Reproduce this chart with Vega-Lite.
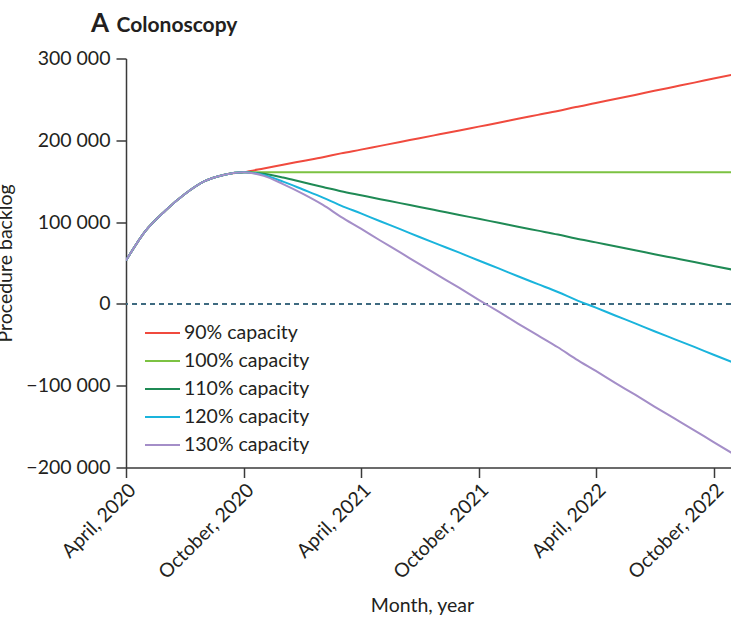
{
  "$schema": "https://vega.github.io/schema/vega-lite/v6.json",
  "width": 605,
  "height": 409,
  "autosize": {"type": "none"},
  "padding": {"left": 126, "top": 58.5, "right": 0, "bottom": 154.5},
  "background": "white",
  "title": {
    "text": "A",
    "subtitle": "\u200b\u00a0\u00a0\u00a0\u00a0\u00a0Colonoscopy",
    "anchor": "start",
    "frame": "group",
    "dx": -35,
    "offset": 12,
    "font": "Lato",
    "fontSize": 26,
    "fontWeight": "bold",
    "color": "#231f20",
    "subtitleFont": "Lato",
    "subtitleFontSize": 21,
    "subtitleFontWeight": "bold",
    "subtitleColor": "#231f20",
    "subtitlePadding": -22
  },
  "config": {
    "view": {"stroke": null},
    "font": "Lato",
    "axis": {
      "labelFont": "Lato",
      "titleFont": "Lato",
      "labelFontSize": 19.5,
      "titleFontSize": 19.5,
      "labelColor": "#231f20",
      "titleColor": "#231f20",
      "titleFontWeight": "normal",
      "domainColor": "#3a3a3a",
      "tickColor": "#3a3a3a",
      "domainWidth": 1.5,
      "tickWidth": 1.5,
      "tickSize": 10,
      "grid": false
    },
    "legend": {
      "labelFont": "Lato",
      "labelFontSize": 19.5,
      "labelColor": "#231f20"
    }
  },
  "data": {
    "values": [
      {"date": "2020-04-01", "scenario": "90% capacity", "value": 53000},
      {"date": "2020-05-01", "scenario": "90% capacity", "value": 89000},
      {"date": "2020-06-01", "scenario": "90% capacity", "value": 114000},
      {"date": "2020-07-01", "scenario": "90% capacity", "value": 134000},
      {"date": "2020-08-01", "scenario": "90% capacity", "value": 150000},
      {"date": "2020-09-01", "scenario": "90% capacity", "value": 158000},
      {"date": "2020-10-01", "scenario": "90% capacity", "value": 161000},
      {"date": "2020-11-01", "scenario": "90% capacity", "value": 165600},
      {"date": "2020-12-01", "scenario": "90% capacity", "value": 170200},
      {"date": "2021-01-01", "scenario": "90% capacity", "value": 174800},
      {"date": "2021-02-01", "scenario": "90% capacity", "value": 179400},
      {"date": "2021-03-01", "scenario": "90% capacity", "value": 184000},
      {"date": "2021-04-01", "scenario": "90% capacity", "value": 188600},
      {"date": "2021-05-01", "scenario": "90% capacity", "value": 193200},
      {"date": "2021-06-01", "scenario": "90% capacity", "value": 197900},
      {"date": "2021-07-01", "scenario": "90% capacity", "value": 202600},
      {"date": "2021-08-01", "scenario": "90% capacity", "value": 207300},
      {"date": "2021-09-01", "scenario": "90% capacity", "value": 212000},
      {"date": "2021-10-01", "scenario": "90% capacity", "value": 216700},
      {"date": "2021-11-01", "scenario": "90% capacity", "value": 221500},
      {"date": "2021-12-01", "scenario": "90% capacity", "value": 226300},
      {"date": "2022-01-01", "scenario": "90% capacity", "value": 231100},
      {"date": "2022-02-01", "scenario": "90% capacity", "value": 235900},
      {"date": "2022-03-01", "scenario": "90% capacity", "value": 240700},
      {"date": "2022-04-01", "scenario": "90% capacity", "value": 245500},
      {"date": "2022-05-01", "scenario": "90% capacity", "value": 250500},
      {"date": "2022-06-01", "scenario": "90% capacity", "value": 255500},
      {"date": "2022-07-01", "scenario": "90% capacity", "value": 260500},
      {"date": "2022-08-01", "scenario": "90% capacity", "value": 265500},
      {"date": "2022-09-01", "scenario": "90% capacity", "value": 270500},
      {"date": "2022-10-01", "scenario": "90% capacity", "value": 275500},
      {"date": "2022-11-01", "scenario": "90% capacity", "value": 280500},

      {"date": "2020-04-01", "scenario": "100% capacity", "value": 53000},
      {"date": "2020-05-01", "scenario": "100% capacity", "value": 89000},
      {"date": "2020-06-01", "scenario": "100% capacity", "value": 114000},
      {"date": "2020-07-01", "scenario": "100% capacity", "value": 134000},
      {"date": "2020-08-01", "scenario": "100% capacity", "value": 150000},
      {"date": "2020-09-01", "scenario": "100% capacity", "value": 158000},
      {"date": "2020-10-01", "scenario": "100% capacity", "value": 161000},
      {"date": "2020-11-01", "scenario": "100% capacity", "value": 161000},
      {"date": "2020-12-01", "scenario": "100% capacity", "value": 161000},
      {"date": "2021-01-01", "scenario": "100% capacity", "value": 161000},
      {"date": "2021-02-01", "scenario": "100% capacity", "value": 161000},
      {"date": "2021-03-01", "scenario": "100% capacity", "value": 161000},
      {"date": "2021-04-01", "scenario": "100% capacity", "value": 161000},
      {"date": "2021-05-01", "scenario": "100% capacity", "value": 161000},
      {"date": "2021-06-01", "scenario": "100% capacity", "value": 161000},
      {"date": "2021-07-01", "scenario": "100% capacity", "value": 161000},
      {"date": "2021-08-01", "scenario": "100% capacity", "value": 161000},
      {"date": "2021-09-01", "scenario": "100% capacity", "value": 161000},
      {"date": "2021-10-01", "scenario": "100% capacity", "value": 161000},
      {"date": "2021-11-01", "scenario": "100% capacity", "value": 161000},
      {"date": "2021-12-01", "scenario": "100% capacity", "value": 161000},
      {"date": "2022-01-01", "scenario": "100% capacity", "value": 161000},
      {"date": "2022-02-01", "scenario": "100% capacity", "value": 161000},
      {"date": "2022-03-01", "scenario": "100% capacity", "value": 161000},
      {"date": "2022-04-01", "scenario": "100% capacity", "value": 161000},
      {"date": "2022-05-01", "scenario": "100% capacity", "value": 161000},
      {"date": "2022-06-01", "scenario": "100% capacity", "value": 161000},
      {"date": "2022-07-01", "scenario": "100% capacity", "value": 161000},
      {"date": "2022-08-01", "scenario": "100% capacity", "value": 161000},
      {"date": "2022-09-01", "scenario": "100% capacity", "value": 161000},
      {"date": "2022-10-01", "scenario": "100% capacity", "value": 161000},
      {"date": "2022-11-01", "scenario": "100% capacity", "value": 161000},

      {"date": "2020-04-01", "scenario": "110% capacity", "value": 53000},
      {"date": "2020-05-01", "scenario": "110% capacity", "value": 89000},
      {"date": "2020-06-01", "scenario": "110% capacity", "value": 114000},
      {"date": "2020-07-01", "scenario": "110% capacity", "value": 134000},
      {"date": "2020-08-01", "scenario": "110% capacity", "value": 150000},
      {"date": "2020-09-01", "scenario": "110% capacity", "value": 158000},
      {"date": "2020-10-01", "scenario": "110% capacity", "value": 161000},
      {"date": "2020-11-01", "scenario": "110% capacity", "value": 159000},
      {"date": "2020-12-01", "scenario": "110% capacity", "value": 154500},
      {"date": "2021-01-01", "scenario": "110% capacity", "value": 148700},
      {"date": "2021-02-01", "scenario": "110% capacity", "value": 143000},
      {"date": "2021-03-01", "scenario": "110% capacity", "value": 137800},
      {"date": "2021-04-01", "scenario": "110% capacity", "value": 132800},
      {"date": "2021-05-01", "scenario": "110% capacity", "value": 128000},
      {"date": "2021-06-01", "scenario": "110% capacity", "value": 123200},
      {"date": "2021-07-01", "scenario": "110% capacity", "value": 118400},
      {"date": "2021-08-01", "scenario": "110% capacity", "value": 113600},
      {"date": "2021-09-01", "scenario": "110% capacity", "value": 108800},
      {"date": "2021-10-01", "scenario": "110% capacity", "value": 104000},
      {"date": "2021-11-01", "scenario": "110% capacity", "value": 99200},
      {"date": "2021-12-01", "scenario": "110% capacity", "value": 94400},
      {"date": "2022-01-01", "scenario": "110% capacity", "value": 89600},
      {"date": "2022-02-01", "scenario": "110% capacity", "value": 84800},
      {"date": "2022-03-01", "scenario": "110% capacity", "value": 80000},
      {"date": "2022-04-01", "scenario": "110% capacity", "value": 75200},
      {"date": "2022-05-01", "scenario": "110% capacity", "value": 70400},
      {"date": "2022-06-01", "scenario": "110% capacity", "value": 65600},
      {"date": "2022-07-01", "scenario": "110% capacity", "value": 60800},
      {"date": "2022-08-01", "scenario": "110% capacity", "value": 56000},
      {"date": "2022-09-01", "scenario": "110% capacity", "value": 51200},
      {"date": "2022-10-01", "scenario": "110% capacity", "value": 46400},
      {"date": "2022-11-01", "scenario": "110% capacity", "value": 41600},

      {"date": "2020-04-01", "scenario": "120% capacity", "value": 53000},
      {"date": "2020-05-01", "scenario": "120% capacity", "value": 89000},
      {"date": "2020-06-01", "scenario": "120% capacity", "value": 114000},
      {"date": "2020-07-01", "scenario": "120% capacity", "value": 134000},
      {"date": "2020-08-01", "scenario": "120% capacity", "value": 150000},
      {"date": "2020-09-01", "scenario": "120% capacity", "value": 158000},
      {"date": "2020-10-01", "scenario": "120% capacity", "value": 161000},
      {"date": "2020-11-01", "scenario": "120% capacity", "value": 157500},
      {"date": "2020-12-01", "scenario": "120% capacity", "value": 149500},
      {"date": "2021-01-01", "scenario": "120% capacity", "value": 139800},
      {"date": "2021-02-01", "scenario": "120% capacity", "value": 129900},
      {"date": "2021-03-01", "scenario": "120% capacity", "value": 120200},
      {"date": "2021-04-01", "scenario": "120% capacity", "value": 110600},
      {"date": "2021-05-01", "scenario": "120% capacity", "value": 101000},
      {"date": "2021-06-01", "scenario": "120% capacity", "value": 91400},
      {"date": "2021-07-01", "scenario": "120% capacity", "value": 81800},
      {"date": "2021-08-01", "scenario": "120% capacity", "value": 72200},
      {"date": "2021-09-01", "scenario": "120% capacity", "value": 62600},
      {"date": "2021-10-01", "scenario": "120% capacity", "value": 53000},
      {"date": "2021-11-01", "scenario": "120% capacity", "value": 43400},
      {"date": "2021-12-01", "scenario": "120% capacity", "value": 33800},
      {"date": "2022-01-01", "scenario": "120% capacity", "value": 24200},
      {"date": "2022-02-01", "scenario": "120% capacity", "value": 14600},
      {"date": "2022-03-01", "scenario": "120% capacity", "value": 5000},
      {"date": "2022-04-01", "scenario": "120% capacity", "value": -4600},
      {"date": "2022-05-01", "scenario": "120% capacity", "value": -14200},
      {"date": "2022-06-01", "scenario": "120% capacity", "value": -23800},
      {"date": "2022-07-01", "scenario": "120% capacity", "value": -33400},
      {"date": "2022-08-01", "scenario": "120% capacity", "value": -43000},
      {"date": "2022-09-01", "scenario": "120% capacity", "value": -52600},
      {"date": "2022-10-01", "scenario": "120% capacity", "value": -62200},
      {"date": "2022-11-01", "scenario": "120% capacity", "value": -71800},

      {"date": "2020-04-01", "scenario": "130% capacity", "value": 53000},
      {"date": "2020-05-01", "scenario": "130% capacity", "value": 89000},
      {"date": "2020-06-01", "scenario": "130% capacity", "value": 114000},
      {"date": "2020-07-01", "scenario": "130% capacity", "value": 134000},
      {"date": "2020-08-01", "scenario": "130% capacity", "value": 150000},
      {"date": "2020-09-01", "scenario": "130% capacity", "value": 158000},
      {"date": "2020-10-01", "scenario": "130% capacity", "value": 161000},
      {"date": "2020-11-01", "scenario": "130% capacity", "value": 156500},
      {"date": "2020-12-01", "scenario": "130% capacity", "value": 146500},
      {"date": "2021-01-01", "scenario": "130% capacity", "value": 134500},
      {"date": "2021-02-01", "scenario": "130% capacity", "value": 121000},
      {"date": "2021-03-01", "scenario": "130% capacity", "value": 106500},
      {"date": "2021-04-01", "scenario": "130% capacity", "value": 92000},
      {"date": "2021-05-01", "scenario": "130% capacity", "value": 77500},
      {"date": "2021-06-01", "scenario": "130% capacity", "value": 63000},
      {"date": "2021-07-01", "scenario": "130% capacity", "value": 48500},
      {"date": "2021-08-01", "scenario": "130% capacity", "value": 34000},
      {"date": "2021-09-01", "scenario": "130% capacity", "value": 19500},
      {"date": "2021-10-01", "scenario": "130% capacity", "value": 5000},
      {"date": "2021-11-01", "scenario": "130% capacity", "value": -9500},
      {"date": "2021-12-01", "scenario": "130% capacity", "value": -24000},
      {"date": "2022-01-01", "scenario": "130% capacity", "value": -38500},
      {"date": "2022-02-01", "scenario": "130% capacity", "value": -53000},
      {"date": "2022-03-01", "scenario": "130% capacity", "value": -67500},
      {"date": "2022-04-01", "scenario": "130% capacity", "value": -82000},
      {"date": "2022-05-01", "scenario": "130% capacity", "value": -96500},
      {"date": "2022-06-01", "scenario": "130% capacity", "value": -111000},
      {"date": "2022-07-01", "scenario": "130% capacity", "value": -125500},
      {"date": "2022-08-01", "scenario": "130% capacity", "value": -140000},
      {"date": "2022-09-01", "scenario": "130% capacity", "value": -154500},
      {"date": "2022-10-01", "scenario": "130% capacity", "value": -169000},
      {"date": "2022-11-01", "scenario": "130% capacity", "value": -183500}
    ]
  },
  "layer": [
    {
      "mark": {"type": "rule", "color": "#3f6b80", "strokeWidth": 1.3, "strokeDash": [5, 4]},
      "encoding": {"y": {"datum": 0, "type": "quantitative"}}
    },
    {
      "mark": {"type": "line", "strokeWidth": 2, "clip": true, "interpolate": "monotone"},
      "encoding": {
        "x": {
          "field": "date",
          "type": "temporal",
          "scale": {"type": "utc", "domain": [{"year": 2020, "month": 4, "date": 1, "utc": true}, {"year": 2022, "month": 10, "date": 28, "utc": true}]},
          "axis": {
            "title": "Month, year",
            "values": [
              {"year": 2020, "month": 4, "date": 1, "utc": true},
              {"year": 2020, "month": 10, "date": 1, "utc": true},
              {"year": 2021, "month": 4, "date": 1, "utc": true},
              {"year": 2021, "month": 10, "date": 1, "utc": true},
              {"year": 2022, "month": 4, "date": 1, "utc": true},
              {"year": 2022, "month": 10, "date": 1, "utc": true}
            ],
            "labelExpr": "utcFormat(datum.value, '%B') + ', ' + utcFormat(datum.value, '%Y')",
            "labelLimit": 400,
            "labelAngle": -45,
            "labelAlign": "right",
            "labelBaseline": "top",
            "labelPadding": 3,
            "titleX": 296,
            "titleY": 144,
            "titleBaseline": "alphabetic"
          }
        },
        "y": {
          "field": "value",
          "type": "quantitative",
          "scale": {"domain": [-200000, 300000], "nice": false, "zero": false},
          "axis": {
            "title": "Procedure backlog",
            "values": [-200000, -100000, 0, 100000, 200000, 300000],
            "labelExpr": "replace(format(datum.value, ','), ',', ' ')",
            "labelPadding": 6,
            "titleX": -115,
            "titleY": 204.5,
            "titleAngle": -90,
            "titleBaseline": "alphabetic",
            "titleAlign": "center"
          }
        },
        "color": {
          "field": "scenario",
          "type": "nominal",
          "scale": {
            "domain": ["90% capacity", "100% capacity", "110% capacity", "120% capacity", "130% capacity"],
            "range": ["#f04a3e", "#7cc242", "#1f8a55", "#1ab4dc", "#a48ec8"]
          },
          "legend": {
            "title": null,
            "orient": "none",
            "legendX": 18,
            "legendY": 256,
            "padding": 0,
            "symbolType": "stroke",
            "symbolSize": 1225,
            "symbolStrokeWidth": 2,
            "rowPadding": -7.3,
            "labelOffset": 3
          }
        },
        "order": {"field": "date", "type": "temporal"}
      }
    }
  ]
}
